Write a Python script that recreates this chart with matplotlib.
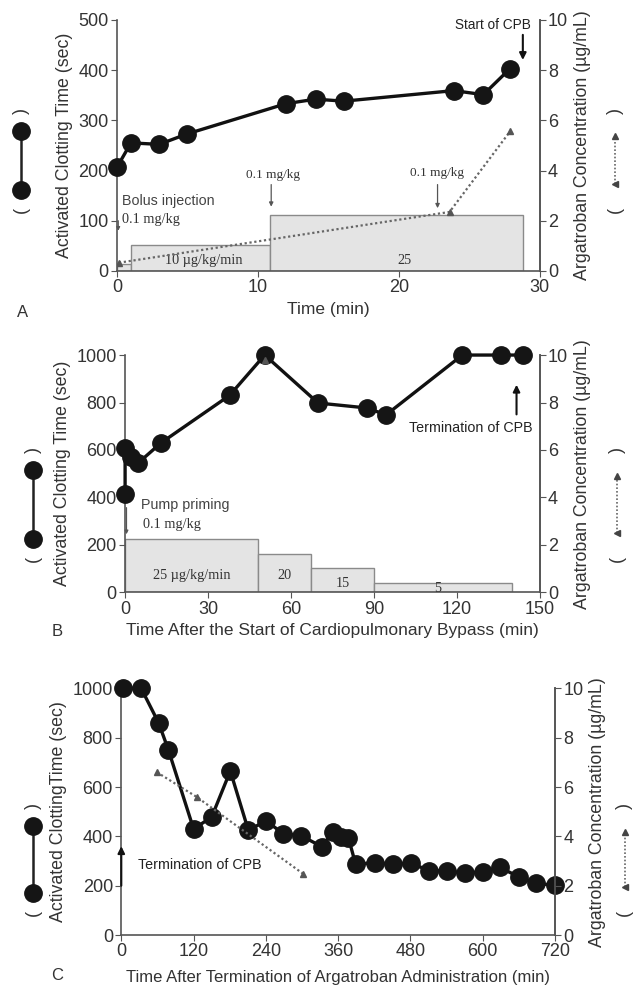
import matplotlib
matplotlib.use('Agg')
import matplotlib.pyplot as plt
from matplotlib.lines import Line2D

plt.rcParams['font.family'] = ['Liberation Sans', 'DejaVu Sans']

# ---- panel A data ----
a_time = [0, 1, 3, 5, 12, 14.1, 16.1, 23.9, 26, 27.9]
a_act = [206, 255, 252, 273, 333, 342, 338, 359, 351, 403]
a_conc_time = [0.15, 23.6, 27.9]
a_conc = [0.33, 2.35, 5.56]
a_inf_start = [0, 1, 10.9]
a_inf_end = [1, 10.9, 28.8]
a_inf_height = [13, 52, 111]

# ---- panel B data ----
b_time = [0, 0, 2, 4.7, 13, 37.8, 50.5, 69.8, 87.5, 94.4, 122, 136, 144]
b_act = [414, 608, 570, 545, 630, 830, 1000, 798, 777, 748, 1000, 1000, 1000]
b_conc_time = [50.5]
b_conc = [9.8]
b_inf_start = [0, 48, 67.3, 90]
b_inf_end = [48, 67.3, 90, 140]
b_inf_height = [223, 160, 103, 40]
b_inf_labels = ['25 µg/kg/min', '20', '15', '5']

# ---- panel C data ----
c_time = [3, 33, 62, 78, 120, 150, 181, 211, 240, 269, 299, 333, 351, 364, 377,
          389, 421, 451, 481, 511, 540, 571, 601, 628, 661, 688, 720]
c_act = [1000, 1000, 860, 752, 430, 478, 665, 424, 463, 411, 402, 358, 417, 398, 395,
         287, 293, 287, 291, 261, 261, 250, 257, 274, 235, 209, 202]
c_conc_time = [59, 125, 302]
c_conc = [6.6, 5.6, 2.48]

fig = plt.figure(figsize=(6.35, 9.89), dpi=100)

txt = '#333333'
axc = '#555555'
serif = ['Liberation Serif', 'DejaVu Serif']
tick_fs = 13
ylab_fs = 12.8
xlab_fs = 12.5
note_fs = 10.3


def setup(ax, xlim, xticks, ylim, yticks, ylabel, xlabel, xpad=4, xfs=xlab_fs):
    ax.set_xlim(xlim)
    ax.set_ylim(ylim)
    ax.set_xticks(xticks)
    ax.set_yticks(yticks)
    ax.spines['top'].set_visible(False)
    for s in ['left', 'bottom', 'right']:
        ax.spines[s].set_color(axc)
        ax.spines[s].set_linewidth(1.2)
    ax.tick_params(labelsize=tick_fs, colors=txt, direction='out', length=4, color=axc, pad=2)
    ax.set_ylabel(ylabel, fontsize=ylab_fs, color=txt, labelpad=4)
    ax.set_xlabel(xlabel, fontsize=xfs, color=txt, labelpad=xpad)
    tw = ax.twinx()
    tw.set_ylim(0, 10)
    tw.set_yticks([0, 2, 4, 6, 8, 10])
    tw.spines['top'].set_visible(False)
    tw.spines['right'].set_color(axc)
    tw.spines['right'].set_linewidth(1.2)
    tw.spines['left'].set_visible(False)
    tw.spines['bottom'].set_visible(False)
    tw.tick_params(labelsize=tick_fs, colors=txt, direction='out', length=4, color=axc, pad=2)
    tw.set_ylabel('Argatroban Concentration (µg/mL)', fontsize=ylab_fs, color=txt, labelpad=4)
    return tw


def boxes(ax, starts, ends, heights):
    widths = [e - s for s, e in zip(starts, ends)]
    ax.bar(starts, heights, width=widths, align='edge', color='#e4e4e4',
           edgecolor='#8a8a8a', linewidth=1.0, zorder=1)


def act_line(ax, x, y):
    ax.plot(x, y, color='#111111', lw=2.4, marker='o', ms=12.5,
            mfc='#151515', mec='#151515', zorder=5, clip_on=False)


def conc_line(tw, x, y, show_line=True):
    tw.plot(x, y, color='#666666', lw=1.6, ls=(0, (1, 1.2)) if show_line else 'none',
            marker='^', ms=5, mfc='#555555', mec='#555555', zorder=4)


def arrow(ax, x0, y0, x1, y1, color='#555555', lw=0.9, head=6):
    ax.annotate('', xy=(x1, y1), xytext=(x0, y0),
                arrowprops=dict(arrowstyle='-|>', color=color, lw=lw,
                                mutation_scale=head, shrinkA=0, shrinkB=0))


def legends(ylo, yhi, xl, xr):
    # left: ACT symbol, right: concentration symbol
    fig.add_artist(Line2D([xl, xl], [ylo, yhi], transform=fig.transFigure,
                          color='#222222', lw=1.8, marker='o', ms=12.5, mfc='#151515', mec='#151515'))
    fig.text(xl, ylo - 0.02, '(', rotation=90, ha='center', va='center', fontsize=13, color=txt)
    fig.text(xl, yhi + 0.02, ')', rotation=90, ha='center', va='center', fontsize=13, color=txt)
    fig.add_artist(Line2D([xr, xr], [ylo + 0.006, yhi - 0.006], transform=fig.transFigure,
                          color='#666666', lw=1.2, ls=(0, (1, 1.2))))
    fig.add_artist(Line2D([xr], [yhi - 0.006], transform=fig.transFigure, marker='^', ms=4,
                          color='#444444', lw=0))
    fig.add_artist(Line2D([xr], [ylo + 0.006], transform=fig.transFigure, marker='<', ms=4,
                          color='#444444', lw=0))
    fig.text(xr, ylo - 0.02, '(', rotation=90, ha='center', va='center', fontsize=13, color=txt)
    fig.text(xr, yhi + 0.02, ')', rotation=90, ha='center', va='center', fontsize=13, color=txt)


# ================= Panel A =================
axA = fig.add_axes([0.184, 0.726, 0.666, 0.254])
twA = setup(axA, (0, 30), [0, 10, 20, 30], (0, 500), [0, 100, 200, 300, 400, 500],
            'Activated Clotting Time (sec)', 'Time (min)')
boxes(axA, a_inf_start, a_inf_end, a_inf_height)
act_line(axA, a_time, a_act)
conc_line(twA, a_conc_time, a_conc)
axA.text(6.2, 20, '10 µg/kg/min', family=serif, fontsize=note_fs, color=txt, ha='center', va='center')
axA.text(20.4, 20, '25', family=serif, fontsize=note_fs, color=txt, ha='center', va='center')
axA.text(0.4, 140, 'Bolus injection', fontsize=note_fs, color='#444444', va='center')
axA.text(0.4, 103, '0.1 mg/kg', family=serif, fontsize=note_fs, color=txt, va='center')
arrow(axA, 0.1, 100, 0.1, 80, head=5)
axA.text(11.05, 191, '0.1 mg/kg', family=serif, fontsize=9.5, color=txt, ha='center', va='center')
arrow(axA, 10.95, 172, 10.95, 128)
axA.text(22.7, 196, '0.1 mg/kg', family=serif, fontsize=9.5, color=txt, ha='center', va='center')
arrow(axA, 22.75, 172, 22.75, 125)
axA.text(29.4, 489, 'Start of CPB', fontsize=9.8, color='#222222', ha='right', va='center')
arrow(axA, 28.8, 470, 28.8, 420, color='#111111', lw=1.5, head=10)
fig.text(0.035, 0.684, 'A', fontsize=12, color=txt, ha='center', va='center')
legends(0.808, 0.868, 0.033, 0.969)

# ================= Panel B =================
axB = fig.add_axes([0.197, 0.401, 0.653, 0.240])
twB = setup(axB, (0, 150), [0, 30, 60, 90, 120, 150], (0, 1000), [0, 200, 400, 600, 800, 1000],
            'Activated Clotting Time (sec)', 'Time After the Start of Cardiopulmonary Bypass (min)')
boxes(axB, b_inf_start, b_inf_end, b_inf_height)
label_y = [71, 71, 37, 18]
for s, e, lab, ly in zip(b_inf_start, b_inf_end, b_inf_labels, label_y):
    xc = (s + e) / 2 - (2 if lab == '5' else 0)
    axB.text(xc, ly, lab, family=serif, fontsize=note_fs, color=txt, ha='center', va='center')
act_line(axB, b_time, b_act)
conc_line(twB, b_conc_time, b_conc, show_line=False)
axB.text(5.6, 369, 'Pump priming', fontsize=note_fs, color='#444444', va='center')
axB.text(6.6, 287, '0.1 mg/kg', family=serif, fontsize=note_fs, color=txt, va='center')
arrow(axB, 0.5, 357, 0.5, 245, head=5)
axB.text(125, 692, 'Termination of CPB', fontsize=note_fs, color='#222222', ha='center', va='center')
arrow(axB, 141.6, 750, 141.6, 875, color='#111111', lw=1.5, head=10)
fig.text(0.09, 0.361, 'B', fontsize=12, color=txt, ha='center', va='center')
legends(0.455, 0.525, 0.052, 0.972)

# ================= Panel C =================
axC = fig.add_axes([0.191, 0.0546, 0.683, 0.2494])
twC = setup(axC, (0, 720), [0, 120, 240, 360, 480, 600, 720], (0, 1000),
            [0, 200, 400, 600, 800, 1000],
            'Activated ClottingTime (sec)', 'Time After Termination of Argatroban Administration (min)',
            xpad=7, xfs=12)
act_line(axC, c_time, c_act)
conc_line(twC, c_conc_time, c_conc)
axC.text(27, 283, 'Termination of CPB', fontsize=note_fs, color='#222222', va='center')
arrow(axC, 0, 200, 0, 360, color='#111111', lw=1.5, head=10)
fig.text(0.09, 0.014, 'C', fontsize=12, color=txt, ha='center', va='center')
legends(0.097, 0.165, 0.052, 0.984)

fig.savefig('out.png', dpi=100)
